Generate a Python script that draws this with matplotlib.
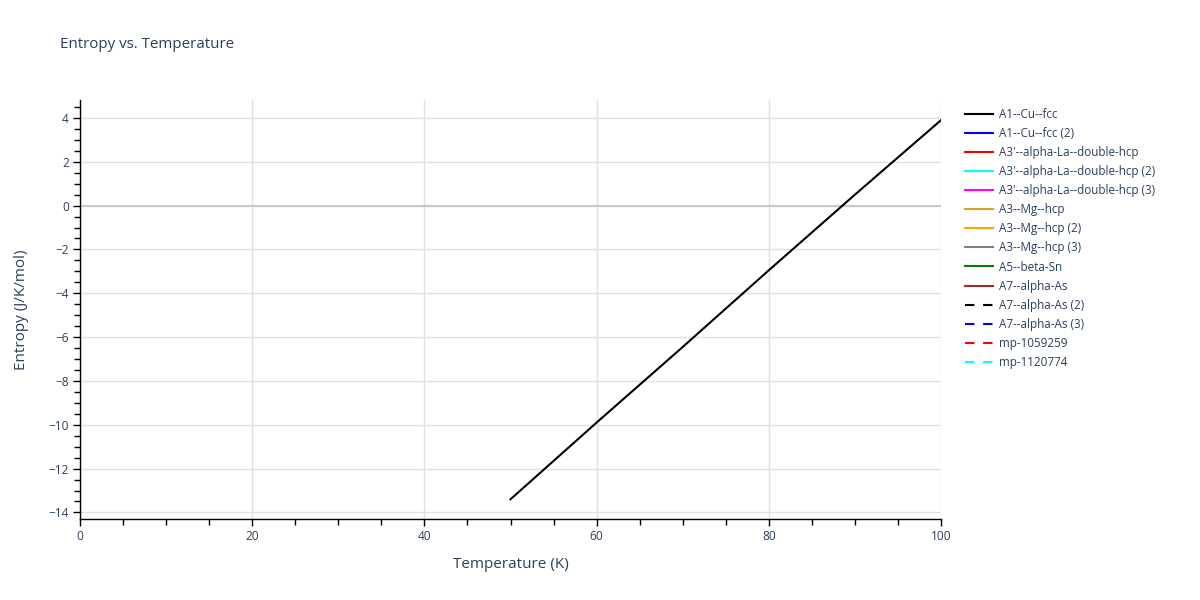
import matplotlib
matplotlib.use("Agg")
import matplotlib.pyplot as plt
from matplotlib.ticker import MultipleLocator

# Data
temperature = [50, 60, 70, 80, 90, 100]
entropy_a1_cu_fcc = [-13.4, -9.9, -6.45, -2.95, 0.5, 3.9]

series_names = [
    "A1--Cu--fcc", "A1--Cu--fcc (2)", "A3'--alpha-La--double-hcp",
    "A3'--alpha-La--double-hcp (2)", "A3'--alpha-La--double-hcp (3)",
    "A3--Mg--hcp", "A3--Mg--hcp (2)", "A3--Mg--hcp (3)", "A5--beta-Sn",
    "A7--alpha-As", "A7--alpha-As (2)", "A7--alpha-As (3)",
    "mp-1059259", "mp-1120774",
]
series_colors = [
    "black", "blue", "red", "cyan", "magenta", "goldenrod", "orange", "gray",
    "green", "brown", "black", "blue", "red", "cyan",
]
series_dashed = [False] * 10 + [True] * 4

FC = "#2a3f5f"
plt.rcParams["font.family"] = ["Open Sans", "DejaVu Sans"]

fig = plt.figure(figsize=(12, 6), dpi=100)
ax = fig.add_axes([80 / 1200, 1 - 519 / 600, (941 - 80) / 1200, (519 - 100) / 600])

lw = 1.5
for i, (name, col, dashed) in enumerate(zip(series_names, series_colors, series_dashed)):
    if i == 0:
        xs, ys = temperature, entropy_a1_cu_fcc
    else:
        xs, ys = [], []
    ls = (0, (4.5, 4.2)) if dashed else "-"
    ax.plot(xs, ys, color=col, lw=lw, linestyle=ls, label=name, zorder=3)

ax.set_xlim(0, 100)
ax.set_ylim(-14.3, 4.82)
ax.xaxis.set_major_locator(MultipleLocator(20))
ax.xaxis.set_minor_locator(MultipleLocator(5))
ax.yaxis.set_major_locator(MultipleLocator(2))
ax.yaxis.set_minor_locator(MultipleLocator(0.5))

ax.grid(True, which="major", color="#e0e0e0", lw=1, zorder=0)
ax.axhline(0, color="#c8c8c8", lw=1.5, zorder=1)
ax.set_axisbelow(True)

for s in ["top", "right"]:
    ax.spines[s].set_visible(False)
for s in ["left", "bottom"]:
    ax.spines[s].set_color("black")
    ax.spines[s].set_linewidth(1)

ax.tick_params(which="major", direction="out", length=5, width=1, color="black",
               labelsize=8.6, labelcolor=FC, pad=3)
ax.tick_params(which="minor", direction="out", length=4, width=1, color="black")

def fmt(v, pos):
    s = f"{v:g}"
    return s.replace("-", "\u2212")
ax.yaxis.set_major_formatter(plt.FuncFormatter(fmt))

ax.set_xlabel("Temperature (K)", fontsize=11, color=FC, labelpad=10)
ax.set_ylabel("Entropy (J/K/mol)", fontsize=11, color=FC, labelpad=14)

fig.text(60 / 1200, 1 - 45 / 600, "Entropy vs. Temperature", fontsize=10.9,
         color=FC, va="center", ha="left")

leg = ax.legend(loc="upper left", bbox_to_anchor=(965 / 1200, 1 - 108 / 600),
                bbox_transform=fig.transFigure, frameon=False, fontsize=8.4,
                handlelength=2.4, handletextpad=0.55, labelspacing=0.52,
                borderaxespad=0, borderpad=0)
for t in leg.get_texts():
    t.set_color(FC)
for h in leg.get_lines():
    h.set_linewidth(1.5)

fig.savefig("out.png", dpi=100, facecolor="white")
